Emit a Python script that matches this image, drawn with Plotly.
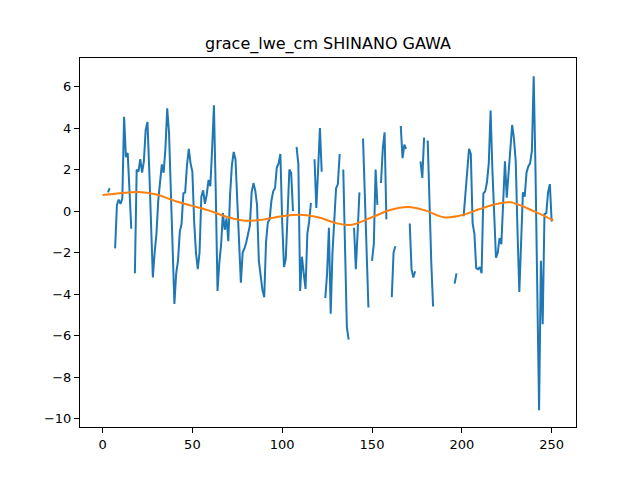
import numpy as np
import plotly.graph_objects as go

nan = float("nan")

# blue series: index -> value (NaN = gap)
lwe = [
    nan, nan, nan, 0.9, 1.1, nan, nan, -1.8, 0.3, 0.55,          # 0-9
    0.35, 0.6, 4.55, 2.6, 2.8, 1.0, -0.85, nan, -3.0, 2.0,       # 10-19
    1.9, 2.5, 1.85, 2.4, 3.9, 4.3, 2.0, -0.5, -3.2, -2.0,        # 20-29
    -1.1, 0.5, 1.6, 2.25, 1.85, 3.0, 4.95, 3.8, 1.0, -2.0,       # 30-39
    -4.48, -3.0, -2.4, -1.0, -0.6, 0.85, 0.9, 2.2, 3.0, 2.3,     # 40-49
    1.9, -0.5, -2.0, -2.8, -2.0, 0.7, 1.0, 0.35, 0.8, 1.5,       # 50-59
    1.2, 3.0, 5.1, 1.0, -3.85, -2.5, -1.6, -0.1, -0.9, -0.35,    # 60-69
    -1.45, 0.8, 2.2, 2.85, 2.5, 0.5, -2.0, -3.45, -2.0, -1.8,    # 70-79
    -1.5, -1.0, -0.7, 0.9, 1.35, 1.0, 0.3, -2.4, -3.2, -3.8,     # 80-89
    -4.15, -1.5, -0.55, -0.4, 0.5, 0.95, 1.1, 2.1, 2.3, 2.75,    # 90-99
    -0.5, -2.7, -2.3, -0.5, 2.0, 1.85, 0.0, nan, 3.1, 2.25,      # 100-109
    -3.85, -2.2, -3.0, -3.75, -1.1, -0.5, 0.4, nan, 2.5, 0.15,   # 110-119
    2.0, 4.0, 1.9, nan, -4.2, -3.0, -0.8, -4.95, -2.0, -0.5,     # 120-129
    1.1, 1.3, 2.75, nan, 2.0, -1.8, -5.6, -6.2, nan, nan,        # 130-139
    -0.8, -2.8, -1.0, 0.9, nan, 3.5, 1.0, -2.0, -4.65, nan,      # 140-149
    -2.4, -1.6, 2.0, 0.3, nan, 1.35, 3.0, 3.8, -0.4, nan,        # 150-159
    nan, -4.15, -2.0, -1.7, nan, nan, 4.1, 2.55, 3.2, 3.0,       # 160-169
    nan, -0.6, -2.8, -3.2, -2.9, nan, nan, 2.4, 1.6, 3.55,       # 170-179
    nan, 3.4, 0.0, -2.5, -4.6, nan, nan, nan, nan, nan,          # 180-189
    nan, nan, nan, nan, nan, nan, -3.5, -3.0, nan, nan,          # 190-199
    nan, -0.25, 0.8, 1.9, 3.0, 2.75, -0.6, -1.1, -2.75, -2.8,    # 200-209
    -2.7, -3.0, 0.85, 0.95, 1.4, 2.3, 4.85, 2.0, -0.5, -2.25,    # 210-219
    -2.0, -1.3, -1.6, 0.5, 2.4, 0.65, 1.9, 3.0, 4.15, 3.5,       # 220-229
    2.4, -1.0, -3.9, -1.5, 0.9, 0.7, 1.85, 2.15, 2.3, 2.9,       # 230-239
    6.5, 2.0, -4.0, -9.6, -2.4, -5.45, -0.15, -0.1, 0.9, 1.3,    # 240-249
    -0.5, nan,                                                   # 250-251
]
lwe_x = list(range(len(lwe)))

# orange smooth trend, read at sample positions
trend_x = [0, 10, 20, 30, 40, 50, 60, 70, 80, 90, 100, 110, 120, 130, 138,
           150, 160, 170, 180, 190, 200, 210, 220, 227, 240, 251]
trend_y = [0.77, 0.86, 0.92, 0.8, 0.5, 0.25, 0.0, -0.3, -0.47, -0.4, -0.25,
           -0.18, -0.3, -0.58, -0.67, -0.3, 0.05, 0.2, 0.02, -0.3, -0.2, 0.1,
           0.35, 0.42, 0.0, -0.45]

x_ticks = [0, 50, 100, 150, 200, 250]
y_ticks = [-10, -8, -6, -4, -2, 0, 2, 4, 6]

fig = go.Figure()
fig.add_trace(go.Scatter(x=lwe_x, y=lwe, mode="lines",
                         line=dict(color="#1f77b4", width=2),
                         connectgaps=False, showlegend=False))
fig.add_trace(go.Scatter(x=trend_x, y=trend_y, mode="lines",
                         line=dict(color="#ff7f0e", width=2, shape="spline", smoothing=1.0),
                         showlegend=False))

axis_common = dict(showline=True, linecolor="black", linewidth=1, mirror=True,
                   ticks="outside", ticklen=5, tickwidth=1, tickcolor="black",
                   showgrid=False, zeroline=False,
                   tickfont=dict(family="DejaVu Sans", size=13, color="black"))

# page body has an 8px default margin, so margins are shifted by 8px
fig.update_layout(
    width=640, height=480,
    paper_bgcolor="white", plot_bgcolor="white",
    margin=dict(l=72, r=72, t=50, b=61),
    title=dict(text="grace_lwe_cm SHINANO GAWA", x=(72 + (640 - 144) / 2) / 640,
               xanchor="center",
               y=1 - 35 / 480, yanchor="middle",
               font=dict(family="DejaVu Sans", size=16, color="black")),
    xaxis=dict(range=[-12.55, 263.55], tickvals=x_ticks, **axis_common),
    yaxis=dict(range=[-10.41, 7.38], tickvals=y_ticks, **axis_common),
)

fig.write_html("out.html")
